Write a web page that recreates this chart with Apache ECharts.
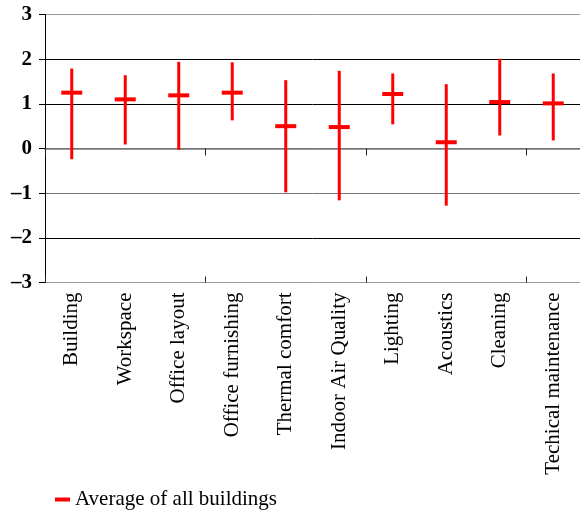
<!DOCTYPE html>
<html>
<head>
<meta charset="utf-8">
<script src="https://cdn.jsdelivr.net/npm/echarts@6/dist/echarts.min.js"></script>
<style>
  html, body { margin: 0; padding: 0; background: #fff; }
  #chart { width: 580px; height: 512px; }
</style>
</head>
<body>
<div id="chart"></div>
<script>
// Satisfaction scores per aspect: range (low..high) and the average of all buildings
const categories = ['Building', 'Workspace', 'Office layout', 'Office furnishing', 'Thermal comfort',
  'Indoor Air Quality', 'Lighting', 'Acoustics', 'Cleaning', 'Techical maintenance'];
const highValues = [1.79, 1.64, 1.94, 1.93, 1.53, 1.74, 1.68, 1.44, 2.01, 1.68];
const lowValues = [-0.24, 0.09, -0.03, 0.63, -0.98, -1.16, 0.54, -1.28, 0.29, 0.18];
const averages = [1.25, 1.10, 1.19, 1.25, 0.50, 0.48, 1.22, 0.14, 1.04, 1.01];
const yTicks = [-3, -2, -1, 0, 1, 2, 3];

const serif = '"Liberation Serif", "Times New Roman", serif';
const red = '#ff0000';

const rangeData = categories.map((c, i) => [i, lowValues[i], highValues[i]]);

const chart = echarts.init(document.getElementById('chart'), null, { renderer: 'canvas' });
chart.setOption({
  animation: false,
  backgroundColor: '#fff',
  grid: { left: 45, right: 0, top: 14.5, bottom: 229.5, containLabel: false },
  legend: {
    data: [{ name: 'Average of all buildings', icon: 'rect' }],
    left: 50,
    top: 484,
    itemWidth: 15,
    itemHeight: 4,
    itemGap: 6,
    itemStyle: { opacity: 1 },
    textStyle: { fontFamily: serif, fontSize: 21, color: '#000' }
  },
  xAxis: [
    {
      // labels along the bottom edge
      type: 'category',
      data: categories,
      position: 'bottom',
      axisLine: { show: false, onZero: false },
      axisTick: { show: false },
      axisLabel: {
        rotate: 90,
        margin: 10,
        interval: 0,
        fontFamily: serif,
        fontSize: 21,
        color: '#000'
      }
    },
    {
      // zero line with tick marks below it
      type: 'category',
      data: categories,
      position: 'bottom',
      axisLine: { show: true, onZero: true, lineStyle: { color: '#777', width: 1.5 } },
      axisTick: { show: true, inside: false, length: 7, lineStyle: { color: '#222', width: 1 } },
      axisLabel: { show: false }
    },
    {
      // tick marks above the zero line
      type: 'category',
      data: categories,
      position: 'bottom',
      axisLine: { show: false, onZero: true },
      axisTick: { show: true, inside: true, length: 6, lineStyle: { color: '#222', width: 1 } },
      axisLabel: { show: false }
    }
  ],
  yAxis: {
    type: 'value',
    min: yTicks[0],
    max: yTicks[yTicks.length - 1],
    interval: 1,
    axisLine: { show: true, lineStyle: { color: '#000', width: 1 } },
    axisTick: { show: true, length: 6, lineStyle: { color: '#000' } },
    axisLabel: {
      margin: 13,
      fontFamily: serif,
      fontSize: 21,
      fontWeight: 'bold',
      color: '#000',
      formatter: v => (v < 0 ? '\u2013' + Math.abs(v) : String(v))
    },
    splitLine: {
      show: true,
      lineStyle: { color: ['#999', '#000', '#777', '#777', '#000', '#000', '#999'], width: 1 }
    }
  },
  series: [
    {
      type: 'custom',
      name: 'range',
      xAxisIndex: 0,
      data: rangeData,
      z: 3,
      renderItem: (params, api) => {
        const top = api.coord([api.value(0), api.value(2)]);
        const bottom = api.coord([api.value(0), api.value(1)]);
        return {
          type: 'line',
          shape: { x1: top[0], y1: top[1], x2: bottom[0], y2: bottom[1] },
          style: { stroke: red, lineWidth: 3 }
        };
      }
    },
    {
      type: 'scatter',
      name: 'Average of all buildings',
      xAxisIndex: 0,
      data: averages,
      symbol: 'rect',
      symbolSize: [21, 4],
      itemStyle: { color: red, opacity: 1 },
      z: 4
    }
  ]
});
</script>
</body>
</html>
